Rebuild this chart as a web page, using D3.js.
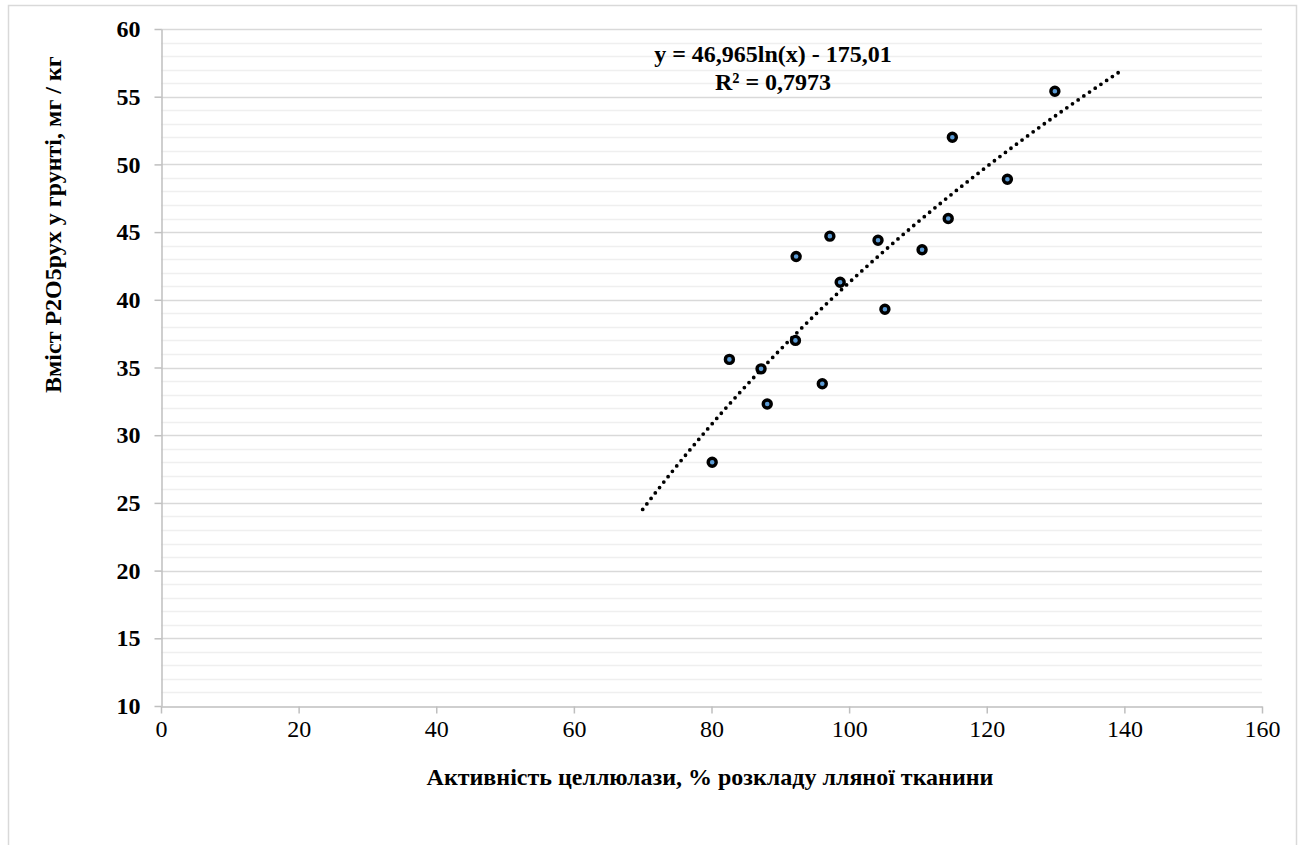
<html>
<head>
<style>
  body { margin: 0; background: #fff; }
  svg text { font-family: "Liberation Serif", "Times New Roman", Times, serif; }
</style>
</head>
<body>
<script src="https://d3js.org/d3.v7.min.js"></script>
<script>

// cellulase activity (% linen decomposition) vs P2O5 content, mg/kg
var activity = [80.1, 82.6, 87.2, 88.1, 92.3, 92.2, 96.1, 97.2, 98.7, 104.2, 105.2, 110.6, 114.4, 115.0, 123.0, 129.9];
var p2o5     = [28.0, 35.6, 34.9, 32.3, 43.2, 37.0, 33.8, 44.7, 41.3, 44.4, 39.3, 43.7, 46.0, 52.0, 48.9, 55.4];

var xTicks = [0, 20, 40, 60, 80, 100, 120, 140, 160];
var yTicks = [10, 15, 20, 25, 30, 35, 40, 45, 50, 55, 60];

var trendA = 46.965, trendB = -175.01, trendFrom = 70, trendTo = 139.7;
var eqText = 'y = 46,965ln(x) - 175,01',
    r2Text = 'R² = 0,7973';
var xTitle = 'Активність целлюлази, % розкладу лляної тканини',
    yTitle = 'Вміст P2O5рух у грунті, мг / кг';

var serif = '"Liberation Serif", "Times New Roman", Times, serif';

var width = 1304,
    height = 845;

var margin = {left: 161, right: 42, top: 29, bottom: 139};

var svg = d3.select('body').append('svg')
    .attr('width', width)
    .attr('height', height);

// chart frame
svg.append('rect')
    .attr('x', 8.5).attr('y', 5.5)
    .attr('width', 1288).attr('height', 860)
    .attr('fill', 'none')
    .attr('stroke', '#d9d9d9')
    .attr('stroke-width', 1.5);

var x = d3.scaleLinear().domain([0, 160]).range([margin.left, width - margin.right]);
var y = d3.scaleLinear().domain([10, 60]).range([height - margin.bottom, margin.top]);

// minor grid
svg.append('g').selectAll('line')
    .data(d3.range(10, 61, 1).filter(function(d) { return d % 5 != 0; }))
  .enter().append('line')
    .attr('x1', x(0)).attr('x2', x(160))
    .attr('y1', function(d) { return Math.round(y(d)) + 0.5; })
    .attr('y2', function(d) { return Math.round(y(d)) + 0.5; })
    .attr('stroke', '#efefef')
    .attr('stroke-width', 1.5);

// major grid
svg.append('g').selectAll('line')
    .data(yTicks.slice(1))
  .enter().append('line')
    .attr('x1', x(0)).attr('x2', x(160))
    .attr('y1', function(d) { return Math.round(y(d)) + 0.5; })
    .attr('y2', function(d) { return Math.round(y(d)) + 0.5; })
    .attr('stroke', '#d9d9d9')
    .attr('stroke-width', 1.5);

// axes
var xAxis = svg.append('g')
    .attr('transform', 'translate(0,' + (Math.round(y(10)) + 0.5) + ')')
    .call(d3.axisBottom(x).tickValues(xTicks).tickSize(7).tickPadding(6).tickSizeOuter(0));

var yAxis = svg.append('g')
    .attr('transform', 'translate(' + (Math.round(x(0)) + 0.5) + ',0)')
    .call(d3.axisLeft(y).tickValues(yTicks).tickSize(7).tickPadding(14).tickSizeOuter(0));

[xAxis, yAxis].forEach(function(a) {
  a.attr('font-family', serif).attr('font-size', 24);
  a.select('.domain').attr('stroke', '#bfbfbf').attr('stroke-width', 1.5);
  a.selectAll('.tick line').attr('stroke', '#bfbfbf').attr('stroke-width', 1.5);
  a.selectAll('.tick text').attr('fill', '#000');
});
yAxis.attr('font-weight', 'bold');

// trendline
var trendData = d3.range(trendFrom, trendTo + 0.01, 0.5);
var line = d3.line()
    .x(function(d) { return x(d); })
    .y(function(d) { return y(trendA * Math.log(d) + trendB); });

svg.append('path')
    .datum(trendData)
    .attr('d', line)
    .attr('fill', 'none')
    .attr('stroke', '#000')
    .attr('stroke-width', 3.8)
    .attr('stroke-linecap', 'round')
    .attr('stroke-dasharray', '0 6.9');

// points
svg.append('g').selectAll('circle')
    .data(activity)
  .enter().append('circle')
    .attr('cx', function(d) { return x(d); })
    .attr('cy', function(d, i) { return y(p2o5[i]); })
    .attr('r', 4)
    .attr('fill', '#5b9bd5')
    .attr('stroke', '#000')
    .attr('stroke-width', 3.4);

// equation label
var eq = svg.append('text')
    .attr('text-anchor', 'middle')
    .attr('font-family', serif)
    .attr('font-size', 24)
    .attr('font-weight', 'bold');
eq.append('tspan').attr('x', 773).attr('y', 62).text(eqText);
eq.append('tspan').attr('x', 773).attr('y', 90).text(r2Text);

// axis titles
svg.append('text')
    .attr('x', 710)
    .attr('y', 785)
    .attr('text-anchor', 'middle')
    .attr('font-family', serif)
    .attr('font-size', 24)
    .attr('font-weight', 'bold')
    .text(xTitle);

// the y title sits high up, its first letter near y = 393
svg.append('text')
    .attr('transform', 'translate(61,393) rotate(-90)')
    .attr('text-anchor', 'start')
    .attr('font-family', serif)
    .attr('font-size', 24)
    .attr('font-weight', 'bold')
    .text(yTitle);

</script>
</body>
</html>
